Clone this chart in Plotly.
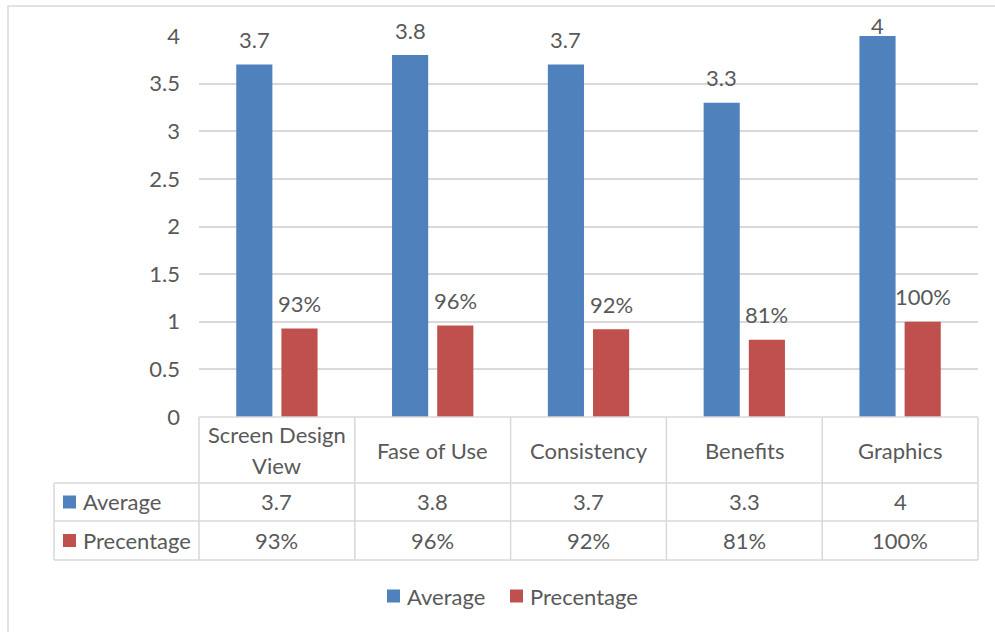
import plotly.graph_objects as go

# ---- data ----
categories = ["Screen Design View", "Fase of Use", "Consistency", "Benefits", "Graphics"]
category_labels = ["Screen Design<br>View", "Fase of Use", "Consistency", "Benefits", "Graphics"]
average = [3.7, 3.8, 3.7, 3.3, 4]
percentage = [0.93, 0.96, 0.92, 0.81, 1.00]
series_names = ["Average", "Precentage"]
y_ticks = [0, 0.5, 1, 1.5, 2, 2.5, 3, 3.5, 4]

# ---- styling ----
BLUE = "#4F81BD"
RED = "#C0504D"
TEXT = "#595959"
GRID = "#D9D9D9"
FONT = "Lato"
FS = 22

W, H = 995, 632
L, R, T, B = 199, 978, 36, 417          # plot area edges in pixels
BARGAP, GROUPGAP = 0.42, 0.2
LINE_H = 30                              # line spacing for wrapped category names


def px_x(x):
    return (x - L) / (R - L)


def px_y(y):
    return (B - y) / (B - T)


def fmt_avg(v):
    return f"{v:g}"


def fmt_pct(v):
    return f"{round(v * 100)}%"


fig = go.Figure()
fig.add_trace(go.Bar(x=categories, y=average, name=series_names[0],
                     marker=dict(color=BLUE, line=dict(width=0)),
                     hovertemplate="%{x}: %{y}<extra>Average</extra>"))
fig.add_trace(go.Bar(x=categories, y=percentage, name=series_names[1],
                     marker=dict(color=RED, line=dict(width=0)),
                     hovertemplate="%{x}: %{y:.0%}<extra>Precentage</extra>"))

ymax = y_ticks[-1]
scale = (B - T) / ymax
cat_w = (R - L) / len(categories)
off = cat_w * (1 - BARGAP) / 4

annotations = []
shapes = []


def text(x, y, s, xanchor="center"):
    annotations.append(dict(x=x, y=y, xref="paper", yref="paper", text=s,
                            showarrow=False, xanchor=xanchor, yanchor="middle",
                            font=dict(family=FONT, size=FS, color=TEXT)))


# value labels above bars (kept inside the chart area near the top)
for vals, fmt, sign in ((average, fmt_avg, -1), (percentage, fmt_pct, 1)):
    for c, v in zip(categories, vals):
        shift = min(25, (ymax - v) * scale + 11)
        annotations.append(dict(x=c, y=v, xref="x", yref="y", text=fmt(v),
                                showarrow=False, xshift=sign * off, yshift=shift,
                                yanchor="middle", xanchor="center",
                                font=dict(family=FONT, size=FS, color=TEXT)))

# ---- data table under the plot ----
row_cat = (417, 483)
row_avg = (483, 521)
row_pct = (521, 560)
tab_left = 54


def hline(y, x0, x1):
    shapes.append(dict(type="line", xref="paper", yref="paper",
                       x0=px_x(x0), x1=px_x(x1), y0=px_y(y), y1=px_y(y),
                       line=dict(color=GRID, width=1.5), layer="above"))


def vline(x, y0, y1):
    shapes.append(dict(type="line", xref="paper", yref="paper",
                       x0=px_x(x), x1=px_x(x), y0=px_y(y0), y1=px_y(y1),
                       line=dict(color=GRID, width=1.5), layer="above"))


hline(row_cat[0], L, R)
hline(row_cat[1], tab_left, R)
hline(row_avg[1], tab_left, R)
hline(row_pct[1], tab_left, R)
vline(tab_left, row_avg[0], row_pct[1])
for i in range(len(categories) + 1):
    vline(L + i * cat_w, row_cat[0], row_pct[1])

for i, lab in enumerate(category_labels):
    cx = px_x(L + (i + 0.5) * cat_w)
    lines = lab.split("<br>")
    mid = sum(row_cat) / 2
    for k, ln in enumerate(lines):
        text(cx, px_y(mid + (k - (len(lines) - 1) / 2) * LINE_H), ln)
    text(cx, px_y(sum(row_avg) / 2), fmt_avg(average[i]))
    text(cx, px_y(sum(row_pct) / 2), fmt_pct(percentage[i]))

# row headers with colour keys
for name, color, row in ((series_names[0], BLUE, row_avg), (series_names[1], RED, row_pct)):
    cy = sum(row) / 2
    shapes.append(dict(type="rect", xref="paper", yref="paper",
                       x0=px_x(63), x1=px_x(76), y0=px_y(cy - 6.5), y1=px_y(cy + 6.5),
                       fillcolor=color, line=dict(width=0)))
    text(px_x(81), px_y(cy), name, xanchor="left")

# legend below the table
leg_y = 596
for name, color, x0 in ((series_names[0], BLUE, 387), (series_names[1], RED, 510)):
    shapes.append(dict(type="rect", xref="paper", yref="paper",
                       x0=px_x(x0), x1=px_x(x0 + 13), y0=px_y(leg_y - 6.5),
                       y1=px_y(leg_y + 6.5), fillcolor=color, line=dict(width=0)))
    text(px_x(x0 + 18), px_y(leg_y), name, xanchor="left")

# chart border
shapes.append(dict(type="rect", xref="paper", yref="paper",
                   x0=px_x(8), x1=px_x(1010), y0=px_y(6), y1=px_y(650),
                   line=dict(color=GRID, width=1.5), fillcolor="rgba(0,0,0,0)"))

fig.update_layout(
    width=W, height=H,
    margin=dict(l=L, r=W - R, t=T, b=H - B, pad=0),
    paper_bgcolor="white", plot_bgcolor="white",
    barmode="group", bargap=BARGAP, bargroupgap=GROUPGAP,
    font=dict(family=FONT, size=FS, color=TEXT),
    xaxis=dict(showticklabels=False, showgrid=False, zeroline=False, showline=False,
               ticks=""),
    yaxis=dict(range=[0, ymax], tickvals=y_ticks, showgrid=True, gridcolor=GRID,
               gridwidth=1.5, zeroline=False, showline=False, ticks="",
               ticklabelstandoff=18, tickfont=dict(family=FONT, size=FS, color=TEXT)),
    showlegend=False,
    annotations=annotations,
    shapes=shapes,
)

fig.write_html("out.html")
